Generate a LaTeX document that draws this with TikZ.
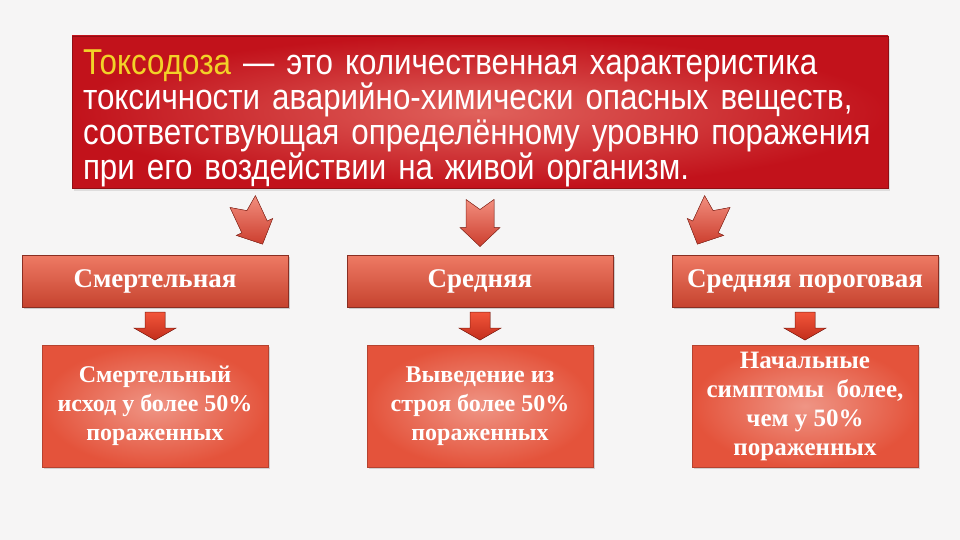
\documentclass[tikz,border=0pt]{standalone}
\usepackage{fontspec}
\setmainfont{Liberation Serif}
\newfontfamily\headfont[FakeStretch=0.87]{Liberation Sans}
\usetikzlibrary{positioning,calc,shadows}

\definecolor{pagebg}{HTML}{F6F5F5}
\definecolor{defred}{HTML}{C2121B}
\definecolor{defglow}{HTML}{E0625C}
\definecolor{termyellow}{HTML}{F2D228}
\definecolor{kindtop}{HTML}{EE7A64}
\definecolor{kindmid}{HTML}{DE5A43}
\definecolor{kindbot}{HTML}{C6432F}
\definecolor{kindline}{HTML}{8A2E22}
\definecolor{resfill}{HTML}{E4533B}
\definecolor{resglow}{HTML}{EF9585}
\definecolor{arrowtop}{HTML}{F2553A}
\definecolor{arrowbot}{HTML}{C22E1C}
\definecolor{dartlight}{HTML}{F28E7E}
\definecolor{dartdark}{HTML}{CC3E2E}

\tikzset{
 defbox/.style={rectangle, draw=defred!75!black, line width=0.8pt,
  inner color=defglow, outer color=defred, text=white,
  minimum width=816pt, minimum height=152pt, text width=794pt,
  inner xsep=11pt, inner ysep=0pt,
  align=left, font=\headfont\fontsize{36}{35}\selectfont,
  drop shadow={shadow xshift=2pt, shadow yshift=-3pt, opacity=0.2}},
 kindbox/.style={rectangle, draw=kindline, line width=0.8pt,
  top color=kindtop, middle color=kindmid, bottom color=kindbot, text=white,
  minimum width=266pt, minimum height=52pt,
  font=\bfseries\fontsize{27}{30}\selectfont,
  drop shadow={shadow xshift=2pt, shadow yshift=-2pt, opacity=0.35}},
 resbox/.style={rectangle, draw=resfill!80!black, line width=0.6pt,
  inner color=resglow, outer color=resfill, text=white,
  minimum width=226pt, minimum height=122pt, align=center,
  font=\bfseries\fontsize{24}{29}\selectfont,
  drop shadow={shadow xshift=2pt, shadow yshift=-2pt, opacity=0.3}},
 pics/downblock/.style={code={
  \fill[top color=arrowtop, bottom color=arrowbot, draw=arrowbot!70!black, line width=0.5pt]
   (-10,-14) -- (10,-14) -- (10,2) -- (21,2) -- (0,14) -- (-21,2) -- (-10,2) -- cycle;}},
 pics/dart/.style={code={
  \fill[top color=dartlight, bottom color=dartdark, draw=dartdark!70!black, line width=0.5pt]
   (-14,-22) -- (0,-12) -- (14,-22) -- (14,6) -- (20,6) -- (0,25) -- (-20,6) -- (-14,6) -- cycle;}},
}

\begin{document}
\begin{tikzpicture}[x=1pt, y=-1pt]
\useasboundingbox (0,0) rectangle (960,540);
\fill[pagebg] (0,0) rectangle (960,540);

% definition
\node[defbox] (def) at (480,112)
 {\rule{0pt}{38pt}{\color{termyellow}Токсодоза} — это количественная характеристика\\
  токсичности аварийно-химически опасных веществ,\\
  соответствующая определённому уровню поражения\\
  при его воздействии на живой организм.};

% kinds of toxodose
\node[kindbox] (lethal) at (155,281) {Смертельная};
\node[kindbox] (medium) at (480,281) {Средняя};
\node[kindbox] (threshold) at (805,281) {Средняя пороговая};

% what each one means
\node[resbox] (lethalres) at (155,406) {Смертельный\\исход у более 50\%\\пораженных};
\node[resbox] (mediumres) at (480,406) {Выведение из\\строя более 50\%\\пораженных};
\node[resbox, font=\bfseries\fontsize{25}{29}\selectfont] (thresholdres) at (805,406)
 {Начальные\\симптомы~ более,\\чем у 50\%\\пораженных};

% arrows
\pic[rotate=25] at ($(def.south)!0.5!(medium.north)+(-228,0)$) {dart};
\pic at ($(def.south)!0.5!(medium.north)$) {dart};
\pic[rotate=-25] at ($(def.south)!0.5!(medium.north)+(228,0)$) {dart};
\pic at ($(lethal.south)!0.5!(lethalres.north)$) {downblock};
\pic at ($(medium.south)!0.5!(mediumres.north)$) {downblock};
\pic at ($(threshold.south)!0.5!(thresholdres.north)$) {downblock};
\end{tikzpicture}
\end{document}
